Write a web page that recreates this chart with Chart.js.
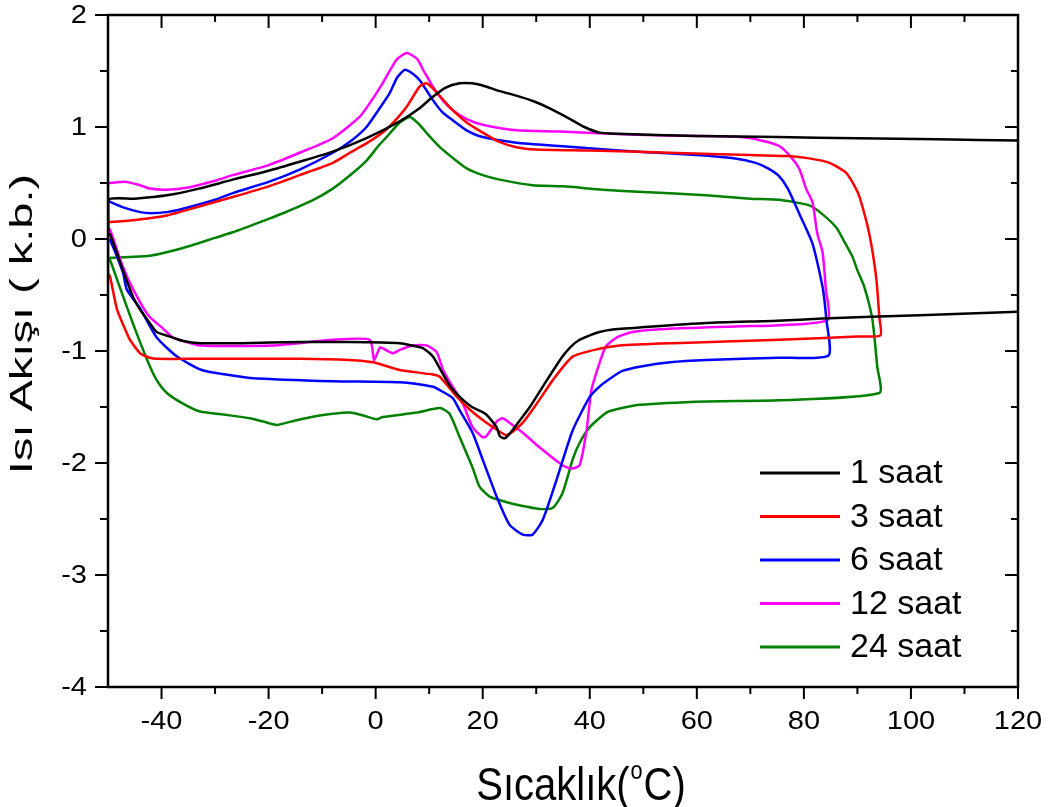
<!DOCTYPE html>
<html>
<head>
<meta charset="utf-8">
<script src="https://cdn.jsdelivr.net/npm/chart.js@4"></script>
<style>
  html, body { margin: 0; padding: 0; background: #fff; }
</style>
</head>
<body>
<canvas id="dscChart" width="1050" height="807"></canvas>
<script>
// axis ticks
const xTicks = [-40, -20, 0, 20, 40, 60, 80, 100, 120];
const xMinor = [-30, -10, 10, 30, 50, 70, 90, 110];
const yTicks = [-4, -3, -2, -1, 0, 1, 2];
const yMinor = [-3.5, -2.5, -1.5, -0.5, 0.5, 1.5];

const seriesNames = ['1 saat', '3 saat', '6 saat', '12 saat', '24 saat'];
const seriesColors = ['#000000', '#ff0000', '#0000ff', '#ff00ff', '#008000'];

// [sicaklik, isi akisi] - each run traced round the loop
const run1 = [
  [120,-0.65],[101.6,-0.68],[83.5,-0.71],[75,-0.73],[61.8,-0.75],[49.3,-0.79],[44,-0.81],[41.8,-0.83],[40,-0.86],[38.1,-0.90],
  [36.5,-0.96],[34.9,-1.05],[32,-1.26],[28.8,-1.50],[26.3,-1.66],[25,-1.74],[24.1,-1.78],[23.2,-1.76],[22.6,-1.68],[20.5,-1.56],
  [18,-1.50],[15.7,-1.41],[14,-1.32],[12.5,-1.20],[10.7,-1.05],[9,-0.98],[7.7,-0.96],[4.5,-0.93],[-5,-0.92],[-14.2,-0.92],
  [-25,-0.93],[-32.8,-0.93],[-36,-0.91],[-37.9,-0.88],[-40.9,-0.83],[-42.2,-0.75],[-44,-0.63],[-45.3,-0.52],[-47.2,-0.28],[-49.6,0.04],[-50,0.05],
  [-50,0.35],[-45,0.36],[-39,0.39],[-33,0.45],[-26.7,0.53],[-20,0.61],[-14.2,0.69],[-8,0.78],[-1.7,0.90],[4.5,1.05],
  [8,1.16],[10.7,1.27],[13,1.35],[15.7,1.39],[18,1.39],[20,1.37],[23.2,1.32],[26.3,1.28],[29.5,1.23],[32.8,1.16],
  [36,1.08],[39,1.00],[41.8,0.95],[45,0.94],[60,0.92],[75,0.91],[90,0.90],[105,0.89],[120,0.88]
];

const run3 = [
  [-50,0.15],[-45,0.17],[-39,0.21],[-33,0.29],[-26.7,0.375],[-20,0.47],[-14.2,0.57],[-8,0.68],[-4.8,0.77],[-1.5,0.86],
  [1.3,0.95],[3.5,1.05],[5.8,1.18],[8.2,1.36],[9.5,1.39],[11,1.33],[13.8,1.18],[17,1.04],[20,0.95],[23,0.87],
  [26.3,0.82],[30,0.80],[40,0.79],[55,0.77],[70,0.75],[77,0.74],[81,0.72],[84.8,0.68],[87.9,0.59],[89.5,0.47],
  [90.4,0.375],[92.2,0.05],[93.5,-0.34],[94.1,-0.70],[94.3,-0.86],
  [90,-0.87],[75.4,-0.90],[55.5,-0.93],[45.6,-0.95],[41.8,-0.98],[36.8,-1.05],[33.1,-1.26],[30.1,-1.47],[27.5,-1.64],[25.6,-1.72],
  [24.3,-1.75],[22.6,-1.70],[20.7,-1.64],[18,-1.54],[15,-1.40],[12,-1.23],[10.7,-1.21],[4.5,-1.17],[1,-1.12],[-0.5,-1.10],
  [-5,-1.08],[-14.2,-1.07],[-32.8,-1.07],[-40.9,-1.07],[-42.2,-1.06],[-44,-1.02],[-45.9,-0.90],[-46.5,-0.84],[-48.3,-0.63],[-49.6,-0.34],
  [-50,-0.30],[-50,0.15]
];

const run6 = [
  [-50,0.34],[-47,0.28],[-44,0.24],[-42,0.23],[-39,0.24],[-36,0.27],[-30,0.35],[-26.7,0.41],[-20,0.51],[-14.2,0.62],
  [-8,0.77],[-4.5,0.88],[-1.7,1.00],[0.5,1.15],[2.6,1.30],[4,1.44],[5.4,1.51],[6.8,1.48],[8.2,1.42],[10.7,1.24],
  [12.5,1.13],[14.4,1.06],[17,0.97],[20,0.91],[26.3,0.86],[34.4,0.83],[48.9,0.78],[60,0.75],[66.9,0.72],[71,0.68],
  [73.3,0.63],[75.4,0.56],[77,0.45],[79.1,0.23],[81.6,-0.04],[83.5,-0.43],[84.2,-0.72],[84.6,-1.04],
  [75.4,-1.06],[61.8,-1.08],[55,-1.10],[49.3,-1.14],[46,-1.18],[44.3,-1.23],[42,-1.31],[40,-1.41],[36.8,-1.71],[33.8,-2.15],
  [31.2,-2.51],[29.3,-2.64],[27.5,-2.64],[25,-2.55],[22.6,-2.30],[20,-1.97],[18.1,-1.73],[15.7,-1.53],[14.4,-1.42],[12,-1.35],
  [10.7,-1.32],[4.5,-1.28],[-8,-1.27],[-23.5,-1.24],[-28,-1.21],[-32.5,-1.17],[-37.1,-1.05],[-40.9,-0.88],[-44,-0.62],[-46.5,-0.45],
  [-47.2,-0.30],[-49.6,-0.01],[-50,0],[-50,0.34]
];

const run12 = [
  [-50,0.50],[-46.5,0.51],[-44,0.48],[-42.2,0.45],[-39,0.44],[-35,0.46],[-30,0.52],[-26.7,0.57],[-20,0.66],[-14.2,0.77],
  [-8,0.90],[-3,1.09],[-1,1.22],[1.3,1.39],[3.9,1.60],[5.8,1.66],[7.7,1.61],[9,1.50],[10.7,1.36],[12.5,1.24],
  [14.4,1.15],[17,1.07],[20,1.02],[26.3,0.97],[34.4,0.96],[48.9,0.93],[60,0.92],[68.2,0.91],[72,0.88],[75.4,0.83],
  [77.8,0.72],[79.2,0.62],[80.4,0.45],[81.6,0.33],[82.5,0.05],[83.5,-0.12],[84.1,-0.45],[84.5,-0.72],
  [75.4,-0.77],[68,-0.78],[55.5,-0.80],[48,-0.83],[45,-0.88],[43,-0.96],[41.8,-1.11],[40.3,-1.35],[39.4,-1.71],[38.1,-2.02],
  [36.6,-2.05],[34.9,-2.02],[30.6,-1.86],[27.5,-1.73],[25,-1.64],[23.7,-1.60],[22.6,-1.63],[20.7,-1.76],[20,-1.77],[18.1,-1.68],
  [16.3,-1.47],[14.4,-1.32],[12.6,-1.17],[11.4,-1.01],[9.5,-0.95],[6.9,-0.95],[4.5,-0.99],[3.2,-1.02],[1.5,-0.98],[0.8,-0.97],
  [-0.3,-1.08],[-1.1,-0.90],[-8,-0.90],[-19.2,-0.95],[-32.8,-0.95],[-36,-0.91],[-37.9,-0.88],[-39.7,-0.80],[-42.5,-0.68],[-45.3,-0.45],
  [-47.2,-0.25],[-49.6,0.08],[-50,0.10],[-50,0.50]
];

const run24 = [
  [-50,-0.17],[-46,-0.16],[-42.2,-0.15],[-36,-0.08],[-30,0.01],[-26.7,0.06],[-20,0.18],[-17.3,0.23],[-12,0.34],[-8,0.45],
  [-4.5,0.58],[-1.7,0.70],[0.5,0.83],[2.6,0.94],[4.5,1.04],[6.4,1.09],[8.2,1.02],[10,0.92],[12,0.82],[14.5,0.72],
  [17,0.63],[20,0.57],[23.2,0.53],[29.3,0.48],[35,0.47],[42.4,0.44],[50,0.42],[61.7,0.39],[70,0.36],[75.4,0.35],
  [81,0.30],[83.5,0.22],[86.1,0.10],[87.4,-0.01],[89.1,-0.16],[90,-0.28],[91.3,-0.43],[92.8,-0.72],[93.7,-1.14],[94.1,-1.375],
  [75.4,-1.44],[61.8,-1.45],[49.3,-1.48],[45,-1.52],[43.1,-1.55],[40,-1.68],[38,-1.83],[36.8,-1.97],[34.9,-2.27],[33.1,-2.40],
  [30.6,-2.41],[27,-2.38],[24.5,-2.35],[21.3,-2.30],[19.4,-2.21],[18.1,-2.04],[15.7,-1.77],[13.8,-1.56],[12,-1.51],[7.7,-1.55],
  [1.3,-1.59],[0.2,-1.61],[-2,-1.58],[-4.8,-1.55],[-8,-1.56],[-11,-1.58],[-15,-1.62],[-18.5,-1.66],[-21,-1.63],[-23.5,-1.60],
  [-28,-1.57],[-32.8,-1.54],[-36,-1.47],[-39,-1.375],[-40.9,-1.26],[-42.5,-1.10],[-45.3,-0.76],[-47.8,-0.43],[-49.6,-0.19],[-50,-0.17]
];

const runs = [run1, run3, run6, run12, run24];
const FONT = '"Liberation Sans", Arial, sans-serif';

// text stretched sideways by sx, anchored at (x, y)
function wideText(ctx, txt, x, y, sx, align) {
  ctx.save();
  ctx.translate(x, y);
  ctx.scale(sx, 1);
  ctx.textAlign = align;
  ctx.fillText(txt, 0, 0);
  ctx.restore();
}

// frame, tick marks, tick labels, titles and legend drawn over the plot
const frameAndLabels = {
  id: 'frameAndLabels',
  afterDraw(chart) {
    const ctx = chart.ctx;
    const a = chart.chartArea;
    const xs = chart.scales.x, ys = chart.scales.y;
    ctx.save();
    ctx.strokeStyle = '#000';
    ctx.lineWidth = 2.5;
    ctx.strokeRect(a.left, a.top, a.right - a.left, a.bottom - a.top);

    ctx.lineWidth = 2;
    ctx.beginPath();
    const xMark = (v, outLen, inLen) => {
      const px = xs.getPixelForValue(v);
      ctx.moveTo(px, a.bottom); ctx.lineTo(px, a.bottom + outLen);
      ctx.moveTo(px, a.top); ctx.lineTo(px, a.top + inLen);
    };
    const yMark = (v, outLen, inLen) => {
      const py = ys.getPixelForValue(v);
      ctx.moveTo(a.left, py); ctx.lineTo(a.left - outLen, py);
      ctx.moveTo(a.right, py); ctx.lineTo(a.right - inLen, py);
    };
    xTicks.forEach(v => xMark(v, 12, 13));
    xMinor.forEach(v => xMark(v, 7, 7));
    yTicks.forEach(v => yMark(v, 13, 13));
    yMinor.forEach(v => yMark(v, 8, 7));
    ctx.stroke();

    ctx.fillStyle = '#000';
    ctx.font = '25px ' + FONT;
    ctx.textBaseline = 'middle';
    xTicks.forEach(v => wideText(ctx, String(v), xs.getPixelForValue(v), a.bottom + 35, 1.16, 'center'));
    yTicks.forEach(v => wideText(ctx, String(v), a.left - 21, ys.getPixelForValue(v) + 1, 1.16, 'right'));

    // y title, squeezed across its height
    ctx.save();
    ctx.translate(32, 324);
    ctx.scale(0.68, 1);
    ctx.rotate(-Math.PI / 2);
    ctx.font = '47px ' + FONT;
    ctx.textAlign = 'center';
    ctx.textBaseline = 'alphabetic';
    ctx.fillText('Isı Akışı ( k.b.)', 0, 0);
    ctx.restore();

    // x title with raised "o"
    ctx.save();
    const big = '46px ' + FONT, small = '25px ' + FONT;
    ctx.font = big;
    const w1 = ctx.measureText('Sıcaklık(').width;
    const w3 = ctx.measureText('C)').width;
    ctx.font = small;
    const w2 = ctx.measureText('o').width + 2;
    const sx = 0.87;
    const total = (w1 + w2 + w3) * sx;
    ctx.translate(581 - total / 2, 800);
    ctx.scale(sx, 1);
    ctx.textAlign = 'left';
    ctx.textBaseline = 'alphabetic';
    ctx.font = big;
    ctx.fillText('Sıcaklık(', 0, 0);
    ctx.font = small;
    ctx.fillText('o', w1 + 1, -21);
    ctx.font = big;
    ctx.fillText('C)', w1 + w2, 0);
    ctx.restore();

    // legend
    ctx.font = '34px ' + FONT;
    ctx.textAlign = 'left';
    ctx.textBaseline = 'middle';
    chart.data.datasets.forEach((ds, i) => {
      const y = 473 + i * 43.5;
      ctx.strokeStyle = ds.borderColor;
      ctx.lineWidth = 3;
      ctx.beginPath();
      ctx.moveTo(760, y);
      ctx.lineTo(840, y);
      ctx.stroke();
      ctx.fillText(ds.label, 850, y + 1);
    });
    ctx.restore();
  }
};

new Chart(document.getElementById('dscChart'), {
  type: 'scatter',
  data: {
    datasets: runs.map((pts, i) => ({
      label: seriesNames[i],
      data: pts.map(p => ({ x: p[0], y: p[1] })),
      showLine: true,
      borderColor: seriesColors[i],
      backgroundColor: seriesColors[i],
      borderWidth: 2.5,
      pointRadius: 0,
      tension: 0.2,
      fill: false
    }))
  },
  options: {
    responsive: false,
    animation: false,
    devicePixelRatio: 1,
    layout: { padding: { top: 15, right: 32, left: 0, bottom: 0 } },
    plugins: { legend: { display: false }, tooltip: { enabled: false } },
    scales: {
      x: {
        type: 'linear',
        min: -50,
        max: 120,
        afterBuildTicks: s => { s.ticks = xTicks.map(v => ({ value: v })); },
        afterFit: s => { s.height = 120; },
        grid: { display: false },
        border: { display: false },
        ticks: { display: false }
      },
      y: {
        type: 'linear',
        min: -4,
        max: 2,
        afterBuildTicks: s => { s.ticks = yTicks.map(v => ({ value: v })); },
        afterFit: s => { s.width = 108; },
        grid: { display: false },
        border: { display: false },
        ticks: { display: false }
      }
    }
  },
  plugins: [frameAndLabels]
});
</script>
</body>
</html>
